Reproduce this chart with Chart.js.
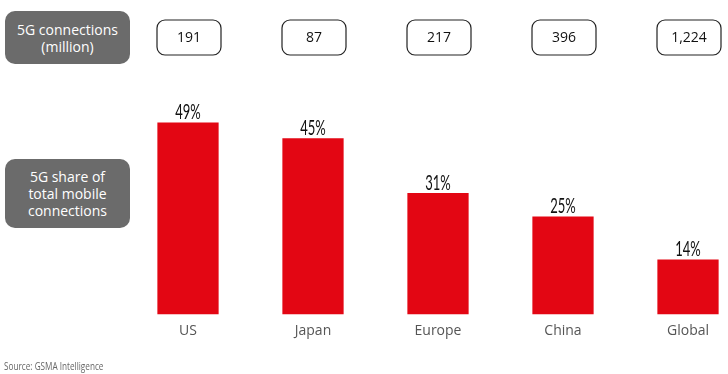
<!DOCTYPE html>
<html><head><meta charset="utf-8">
<script src="https://cdn.jsdelivr.net/npm/chart.js@4/dist/chart.umd.min.js"></script>
<style>
html,body{margin:0;padding:0;background:#fff;}
#wrap{position:relative;width:728px;height:374px;overflow:hidden;font-family:"Open Sans",Lato,sans-serif;}
canvas{position:absolute;left:0;top:0;}
.lbl{position:absolute;left:5px;width:125px;background:#6b6b6b;color:#fff;border-radius:10px;display:flex;align-items:center;justify-content:center;text-align:center;font-size:14px;line-height:17px;}
#src{position:absolute;left:4px;top:359px;font-size:10px;color:#666;font-family:"Open Sans",sans-serif;transform:scaleX(0.82);transform-origin:left top;white-space:nowrap;}
</style></head>
<body><div id="wrap">
<canvas id="c" width="728" height="374"></canvas>
<div class="lbl" style="top:11px;height:53px;">5G connections<br>(million)</div>
<div class="lbl" style="top:159px;height:69px;">5G share of<br>total mobile<br>connections</div>
<div id="src">Source: GSMA Intelligence</div>
</div>
<script>
const categories = ["US","Japan","Europe","China","Global"];
const sharePct = [49,45,31,25,14];
const connectionsMillion = ["191","87","217","396","1,224"];

const overlay = {
  id:'overlay',
  afterDatasetsDraw(chart){
    const ctx = chart.ctx, x = chart.scales.x, y = chart.scales.y;
    ctx.save();
    // percentage labels (condensed look)
    ctx.fillStyle = '#111';
    ctx.font = '21px Lato,"Open Sans",sans-serif';
    ctx.textAlign = 'center'; ctx.textBaseline = 'alphabetic';
    sharePct.forEach((v,i)=>{
      const px = x.getPixelForValue(i), py = y.getPixelForValue(v) - 3;
      ctx.save();
      ctx.translate(px, py);
      ctx.scale(0.62, 1);
      ctx.fillText(v+'%', 0, 0);
      ctx.restore();
    });
    // connection boxes
    ctx.font = '14px "Open Sans",Lato,sans-serif';
    ctx.textBaseline = 'middle';
    connectionsMillion.forEach((t,i)=>{
      const cx = x.getPixelForValue(i) + 1, w = 64, h = 35, top = 20;
      ctx.beginPath();
      ctx.roundRect(cx-w/2, top, w, h, 8);
      ctx.fillStyle = '#fff'; ctx.fill();
      ctx.lineWidth = 1.2; ctx.strokeStyle = '#222'; ctx.stroke();
      ctx.fillStyle = '#111';
      ctx.fillText(t, cx, top+h/2+1);
    });
    ctx.restore();
  }
};

new Chart(document.getElementById('c'), {
  type:'bar',
  data:{labels:categories, datasets:[{data:sharePct, backgroundColor:'#e30613', clip:false,
    categoryPercentage:1, barPercentage:0.49}]},
  options:{
    responsive:false, animation:false,
    layout:{padding:{left:188, right:40, top:99, bottom:35}},
    plugins:{legend:{display:false}, tooltip:{enabled:false}},
    scales:{
      x:{offset:false, grid:{display:false}, border:{display:false},
         ticks:{color:'#555', padding:0, font:{family:'Open Sans', size:14}}},
      y:{display:false, min:0, max:55}
    }
  },
  plugins:[overlay]
});
</script>
</body></html>
